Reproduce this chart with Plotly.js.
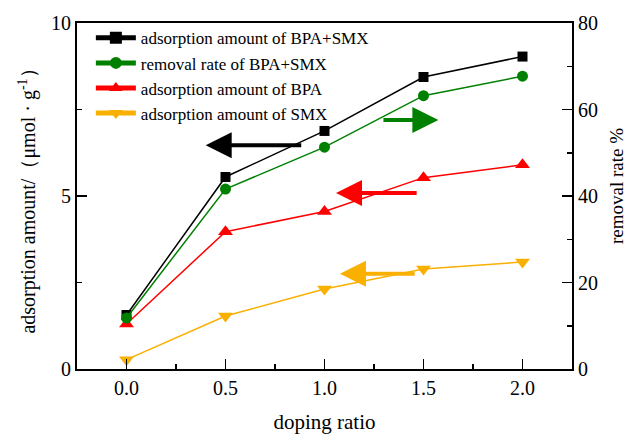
<!DOCTYPE html>
<html>
<head>
<meta charset="utf-8">
<script src="https://cdn.plot.ly/plotly-3.0.1.min.js"></script>
<style>html,body{margin:0;padding:0;background:#fff;}#chart{width:627px;height:434px;}</style>
</head>
<body>
<div id="chart"></div>
<script>
const dopingRatio = [0.0, 0.5, 1.0, 1.5, 2.0];
const adsBPASMX = [1.56, 5.55, 6.88, 8.44, 9.03];
const removalBPASMX = [11.8, 41.6, 51.3, 63.2, 67.7];
const adsBPA = [1.30, 3.97, 4.55, 5.53, 5.90];
const adsSMX = [0.27, 1.53, 2.31, 2.89, 3.09];
const seriesNames = ['adsorption amount of BPA+SMX', 'removal rate of BPA+SMX', 'adsorption amount of BPA', 'adsorption amount of SMX'];
const xTicks = [0, 0.5, 1.0, 1.5, 2.0];
const xTickLabels = ['0.0', '0.5', '1.0', '1.5', '2.0'];
const yTicks = [0, 5, 10];
const y2Ticks = [0, 20, 40, 60, 80];
const yTitle = 'adsorption amount/（μmol · g<sup>-1</sup>）';
const y2Title = 'removal rate %';
const xTitle = 'doping ratio';

const FONT = 'Tinos, Nimbus Roman, Times New Roman, DejaVu Serif';
const cBlack = '#000000', cGreen = '#008000', cRed = '#ff0000', cOrange = '#f9b000';

const traces = [
  {x: dopingRatio, y: adsBPASMX, name: seriesNames[0], type: 'scatter', mode: 'lines+markers',
   line: {color: cBlack, width: 1.5}, marker: {symbol: 'square', size: 10, color: cBlack}},
  {x: dopingRatio, y: removalBPASMX, name: seriesNames[1], type: 'scatter', mode: 'lines+markers', yaxis: 'y2',
   line: {color: cGreen, width: 1.5}, marker: {symbol: 'circle', size: 11, color: cGreen}},
  {x: dopingRatio, y: adsBPA, name: seriesNames[2], type: 'scatter', mode: 'lines+markers',
   line: {color: cRed, width: 1.5}, marker: {symbol: 'triangle-up', size: 13, color: cRed}},
  {x: dopingRatio, y: adsSMX, name: seriesNames[3], type: 'scatter', mode: 'lines+markers',
   line: {color: cOrange, width: 1.5}, marker: {symbol: 'triangle-down', size: 13, color: cOrange}}
];

function arrow(tipX, tipY, tailX, tailY, color) {
  return {x: tipX, y: tipY, ax: tailX, ay: tailY, xref: 'x', yref: 'y', axref: 'x', ayref: 'y',
    text: '', showarrow: true, arrowhead: 2, arrowsize: 1.3, arrowwidth: 4, arrowcolor: color, standoff: 0, startstandoff: 0};
}

const layout = {
  width: 627, height: 434,
  margin: {l: 77, r: 55, t: 23, b: 65},
  paper_bgcolor: '#fff', plot_bgcolor: '#fff',
  font: {family: FONT, size: 18, color: '#000'},
  showlegend: true,
  legend: {x: 0.028, y: 1.008, xanchor: 'left', yanchor: 'top', bgcolor: 'rgba(0,0,0,0)',
    font: {family: FONT, size: 17, color: '#000'}, tracegroupgap: 0, itemsizing: 'constant', itemwidth: 40},
  xaxis: {range: [-0.25, 2.25], tickvals: xTicks, ticktext: xTickLabels, ticks: 'inside', ticklen: 10, tickwidth: 1.5,
    tickcolor: '#000', showline: true, linecolor: '#000', linewidth: 2, mirror: true, showgrid: false, zeroline: false,
    minor: {dtick: 0.25, ticks: 'inside', ticklen: 5, tickwidth: 1.5, tickcolor: '#000', tick0: 0},
    tickfont: {family: FONT, size: 20},
    title: {text: xTitle, font: {family: FONT, size: 21}, standoff: 16}},
  yaxis: {range: [0, 10], tickvals: yTicks, ticks: 'inside', ticklen: 10, tickwidth: 1.5, tickcolor: '#000',
    showline: true, linecolor: '#000', linewidth: 2, showgrid: false, zeroline: false,
    minor: {dtick: 2.5, ticks: 'inside', ticklen: 5, tickwidth: 1.5, tickcolor: '#000', tick0: 0},
    tickfont: {family: FONT, size: 20},
    title: {text: yTitle, font: {family: FONT, size: 20}, standoff: 10}},
  yaxis2: {range: [0, 80], tickvals: y2Ticks, overlaying: 'y', side: 'right', ticks: 'inside', ticklen: 10, tickwidth: 1.5,
    tickcolor: '#000', showline: true, linecolor: '#000', linewidth: 2, showgrid: false, zeroline: false,
    minor: {dtick: 10, ticks: 'inside', ticklen: 5, tickwidth: 1.5, tickcolor: '#000', tick0: 0},
    tickfont: {family: FONT, size: 20}},
  annotations: [
    arrow(0.40, 6.47, 0.89, 6.47, cBlack),
    arrow(1.575, 7.20, 1.29, 7.20, cGreen),
    arrow(1.058, 5.09, 1.473, 5.09, cRed),
    arrow(1.078, 2.75, 1.463, 2.75, cOrange),
    {text: y2Title, xref: 'paper', yref: 'paper', x: 1.091, y: 0.529, xanchor: 'center', yanchor: 'middle',
     textangle: -90, showarrow: false, font: {family: FONT, size: 19, color: '#000'}}
  ]
};

Plotly.newPlot('chart', traces, layout, {displayModeBar: false, staticPlot: true});
</script>
</body>
</html>
